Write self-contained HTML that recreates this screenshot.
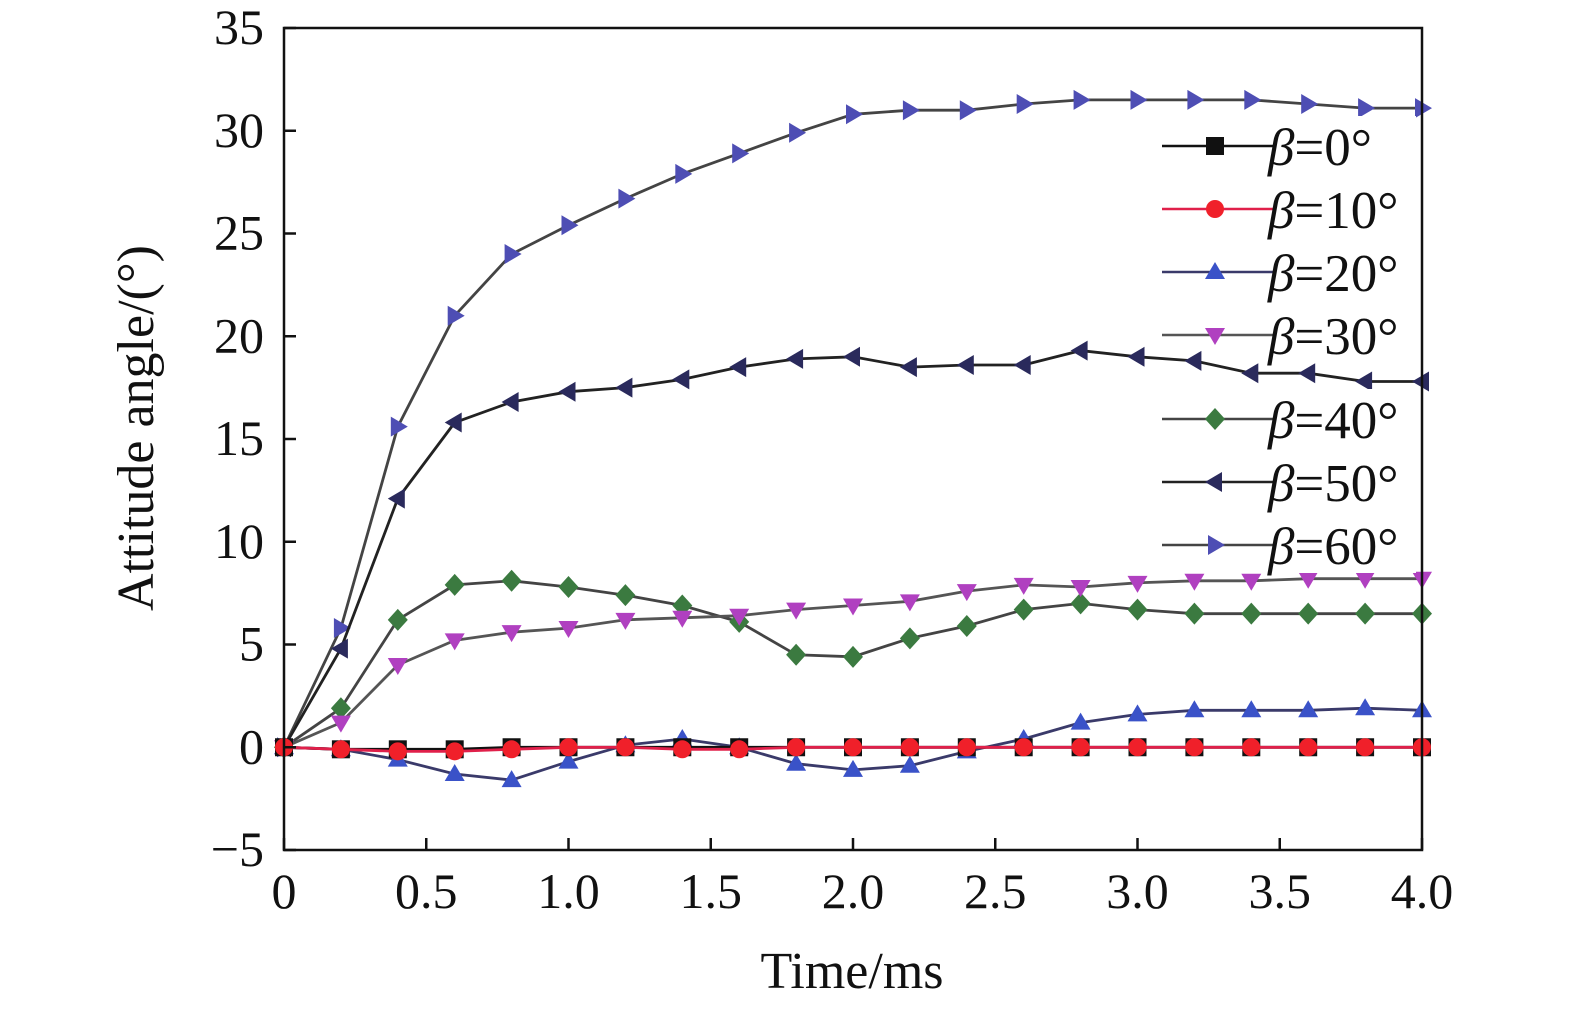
<!DOCTYPE html>
<html><head><meta charset="utf-8"><style>
body{margin:0;background:#fff}
svg{display:block;font-family:"Liberation Serif",serif}
</style></head><body>
<svg id="chart" width="1575" height="1014" viewBox="0 0 1575 1014" xmlns="http://www.w3.org/2000/svg">
<rect width="1575" height="1014" fill="#fff"/>
<g id="plot"></g>
<g id="axes"></g>
<g id="legend"></g>
</svg>
<script>
const times=[0,0.2,0.4,0.6,0.8,1.0,1.2,1.4,1.6,1.8,2.0,2.2,2.4,2.6,2.8,3.0,3.2,3.4,3.6,3.8,4.0];
const b0=[0,-0.1,-0.1,-0.1,0,0,0,0,0,0,0,0,0,0,0,0,0,0,0,0,0];
const b10=[0,-0.1,-0.2,-0.2,-0.1,0,0,-0.1,-0.1,0,0,0,0,0,0,0,0,0,0,0,0];
const b20=[0,-0.1,-0.6,-1.3,-1.6,-0.7,0.1,0.4,0,-0.8,-1.1,-0.9,-0.2,0.4,1.2,1.6,1.8,1.8,1.8,1.9,1.8];
const b30=[0,1.2,4.0,5.2,5.6,5.8,6.2,6.3,6.4,6.7,6.9,7.1,7.6,7.9,7.8,8.0,8.1,8.1,8.2,8.2,8.2];
const b40=[0,1.9,6.2,7.9,8.1,7.8,7.4,6.9,6.1,4.5,4.4,5.3,5.9,6.7,7.0,6.7,6.5,6.5,6.5,6.5,6.5];
const b50=[0,4.8,12.1,15.8,16.8,17.3,17.5,17.9,18.5,18.9,19.0,18.5,18.6,18.6,19.3,19.0,18.8,18.2,18.2,17.8,17.8];
const b60=[0,5.8,15.6,21.0,24.0,25.4,26.7,27.9,28.9,29.9,30.8,31.0,31.0,31.3,31.5,31.5,31.5,31.5,31.3,31.1,31.1];
const xTicks=[0,0.5,1.0,1.5,2.0,2.5,3.0,3.5,4.0];
const xTickLabels=["0","0.5","1.0","1.5","2.0","2.5","3.0","3.5","4.0"];
const yTicks=[-5,0,5,10,15,20,25,30,35];
const yTickLabels=["\u22125","0","5","10","15","20","25","30","35"];
const seriesNames=["β=0°","β=10°","β=20°","β=30°","β=40°","β=50°","β=60°"];

const NS="http://www.w3.org/2000/svg";
const X0=284,X1=1422,Y0=850,Y1=28;
const sx=v=>X0+(v-0)/(4-0)*(X1-X0);
const sy=v=>Y0-(v+5)/(40)*(Y0-Y1);
function mk(tag,attrs,parent){const e=document.createElementNS(NS,tag);for(const k in attrs)e.setAttribute(k,attrs[k]);parent.appendChild(e);return e;}
const plot=document.getElementById('plot'),axes=document.getElementById('axes'),legend=document.getElementById('legend');

const styles=[
 {line:"#111",fill:"#111",m:"square"},
 {line:"#e0204a",fill:"#f0202a",m:"circle"},
 {line:"#3a3a6a",fill:"#3a52c8",m:"up"},
 {line:"#555",fill:"#b040c0",m:"down"},
 {line:"#444",fill:"#3b7a40",m:"diamond"},
 {line:"#222",fill:"#2a2a5c",m:"left"},
 {line:"#444",fill:"#4e4eb4",m:"right"}
];
const allSeries=[b0,b10,b20,b30,b40,b50,b60];
function marker(g,type,x,y,fill){
 const s=10;let e;
 if(type==="square")e=mk('rect',{x:x-s+1,y:y-s+1,width:2*s-2,height:2*s-2,fill:fill},g);
 else if(type==="circle")e=mk('circle',{cx:x,cy:y,r:s-1,fill:fill},g);
 else{let p;
  if(type==="up")p=[[x,y-s],[x+s,y+s*0.7],[x-s,y+s*0.7]];
  else if(type==="down")p=[[x,y+s],[x+s,y-s*0.7],[x-s,y-s*0.7]];
  else if(type==="left")p=[[x-s,y],[x+s*0.7,y-s],[x+s*0.7,y+s]];
  else if(type==="right")p=[[x+s,y],[x-s*0.7,y-s],[x-s*0.7,y+s]];
  else p=[[x,y-s-1],[x+s,y],[x,y+s+1],[x-s,y]];
  e=mk('polygon',{points:p.map(q=>q.join(',')).join(' '),fill:fill},g);}
 return e;
}
[6,5,4,3,2,0,1].forEach(i=>{
 const g=mk('g',{},plot);
 
 
 const d=allSeries[i].map((v,j)=>(j?'L':'M')+sx(times[j]).toFixed(1)+','+sy(v).toFixed(1)).join('');
 const path=mk('path',{d:d,fill:'none',stroke:styles[i].line,'stroke-width':2.8},g);
 
 
 allSeries[i].forEach((v,j)=>{
  const m=marker(g,styles[i].m,sx(times[j]),sy(v),styles[i].fill);
  
  
 });
});
const fr=mk('rect',{x:X0,y:Y1,width:X1-X0,height:Y0-Y1,fill:'none',stroke:'#111','stroke-width':2.5},axes);


xTicks.forEach((v,i)=>{
 const t=mk('line',{x1:sx(v),x2:sx(v),y1:Y0,y2:Y0-12,stroke:'#111','stroke-width':2.5},axes);
 
 
 const l=mk('text',{x:sx(v),y:908,'font-size':50,'text-anchor':'middle',fill:'#111'},axes);
 l.textContent=xTickLabels[i];
 
 
});
yTicks.forEach((v,i)=>{
 const t=mk('line',{x1:X0,x2:X0+12,y1:sy(v),y2:sy(v),stroke:'#111','stroke-width':2.5},axes);
 
 
 const l=mk('text',{x:264,y:sy(v)+16,'font-size':50,'text-anchor':'end',fill:'#111'},axes);
 l.textContent=yTickLabels[i];
 
 
});
const xt=mk('text',{x:852,y:988,'font-size':52,'text-anchor':'middle',fill:'#111'},axes);
xt.textContent="Time/ms";


const yt=mk('text',{x:0,y:0,'font-size':52,'text-anchor':'middle',fill:'#111',transform:'translate(153,428) rotate(-90)'},axes);
yt.textContent="Attitude angle/(°)";


const rows=[146,209,272,335,419,482,545];
seriesNames.forEach((n,i)=>{
 const g=mk('g',{},legend);
 
 
 const y=rows[i];
 mk('rect',{x:1264,y:y-30,width:152,height:58,fill:'#fff'},g);
 mk('line',{x1:1162,x2:1275,y1:y,y2:y,stroke:styles[i].line,'stroke-width':2.5},g);
 marker(g,styles[i].m,1215,y,styles[i].fill);
 const t=mk('text',{x:1268,y:y+19,'font-size':53,fill:'#111'},g);
 const m=n.match(/^β(.*)$/);
 const ts=mk('tspan',{'font-style':'italic'},t);ts.textContent='β';
 const ts2=mk('tspan',{},t);ts2.textContent=m[1];
});
</script>
</body></html>
